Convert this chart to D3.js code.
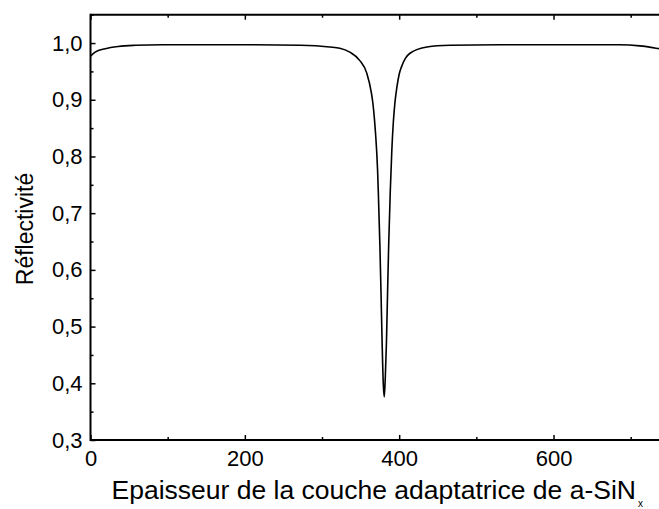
<!DOCTYPE html>
<html>
<head>
<meta charset="utf-8">
<script src="https://cdn.jsdelivr.net/npm/d3@7"></script>
<style>
  html, body { margin: 0; padding: 0; background: #fff; }
  svg { display: block; }
  text { font-family: "Liberation Sans", Arial, sans-serif; fill: #000; }
</style>
</head>
<body>
<svg id="chart" width="659" height="509"></svg>
<script>
// Data
const thickness = [0, 6, 19, 36, 58, 93, 142, 207, 272, 310, 323, 336, 349, 358, 364, 366, 368, 369.5, 371, 372, 373, 375, 376.5, 378, 379.5, 380.7, 382, 383.5, 385, 386.5, 388.5, 390.5, 392.5, 394.5, 397, 400, 403, 408, 414, 436, 466, 530, 600, 660, 686, 712, 737, 750];
const reflectivity = [0.977, 0.984, 0.990, 0.994, 0.996, 0.997, 0.997, 0.997, 0.996, 0.993, 0.991, 0.984, 0.969, 0.947, 0.912, 0.893, 0.865, 0.838, 0.805, 0.776, 0.736, 0.643, 0.557, 0.466, 0.396, 0.376, 0.410, 0.472, 0.563, 0.649, 0.740, 0.812, 0.862, 0.895, 0.922, 0.945, 0.958, 0.973, 0.982, 0.993, 0.996, 0.997, 0.997, 0.997, 0.997, 0.995, 0.990, 0.987];
const xTicks = [0, 200, 400, 600];
const xMinorTicks = [100, 300, 500, 700];
const yTicks = [0.3, 0.4, 0.5, 0.6, 0.7, 0.8, 0.9, 1.0];
const yMinorTicks = [0.35, 0.45, 0.55, 0.65, 0.75, 0.85, 0.95, 1.05];
const xTitle = "Epaisseur de la couche adaptatrice de a-SiN";
const xTitleSub = "x";
const yTitle = "Réflectivité";

(function () {
const data = thickness.map((t, i) => ({ x: t, y: reflectivity[i] }));

const svg = d3.select("#chart");
const mLeft = 90.5, mTop = 14.7, mBottom = 440;
const x = d3.scaleLinear().domain([0, 750]).range([mLeft, mLeft + 750 * 0.7717]);
const y = d3.scaleLinear().domain([0.3, 1.05]).range([mBottom, mTop]);

const fmt = d => d3.format(".1f")(d).replace(".", ",");

// Curve
const line = d3.line().x(d => x(d.x)).y(d => y(d.y)).curve(d3.curveMonotoneX);
svg.append("path").datum(data)
  .attr("fill", "none").attr("stroke", "#000").attr("stroke-width", 1.6)
  .attr("d", line);

// Axes (ticks pointing inward)
const gBottom = svg.append("g").attr("transform", `translate(0,${mBottom})`)
  .call(d3.axisBottom(x).tickValues(xTicks).tickSizeInner(-5).tickSizeOuter(0).tickPadding(10.5).tickFormat(d3.format("d")));
const gBottomMinor = svg.append("g").attr("transform", `translate(0,${mBottom})`)
  .call(d3.axisBottom(x).tickValues(xMinorTicks).tickSizeInner(-3).tickSizeOuter(0).tickFormat(""));
const gTop = svg.append("g").attr("transform", `translate(0,${mTop})`)
  .call(d3.axisTop(x).tickValues(xTicks).tickSizeInner(-5).tickSizeOuter(0).tickFormat(""));
const gTopMinor = svg.append("g").attr("transform", `translate(0,${mTop})`)
  .call(d3.axisTop(x).tickValues(xMinorTicks).tickSizeInner(-3).tickSizeOuter(0).tickFormat(""));
const gLeft = svg.append("g").attr("transform", `translate(${mLeft},0)`)
  .call(d3.axisLeft(y).tickValues(yTicks).tickSizeInner(-5).tickSizeOuter(0).tickPadding(8).tickFormat(fmt));
const gLeftMinor = svg.append("g").attr("transform", `translate(${mLeft},0)`)
  .call(d3.axisLeft(y).tickValues(yMinorTicks).tickSizeInner(-3).tickSizeOuter(0).tickFormat(""));

svg.selectAll(".domain").attr("stroke", "#000").attr("stroke-width", 2);
svg.selectAll(".tick line").attr("stroke", "#000").attr("stroke-width", 1.5);
svg.selectAll(".tick text").attr("font-family", "Liberation Sans, Arial, sans-serif").attr("font-size", 22).attr("fill", "#000");

gTop.select(".domain").attr("d", `M${mLeft},0H659`);
gBottom.select(".domain").attr("d", `M${mLeft},0H659`);
gLeft.select(".domain").attr("d", `M0,${mTop - 1}V${mBottom + 1}`);
gTopMinor.select(".domain").remove();
gBottomMinor.select(".domain").remove();
gLeftMinor.select(".domain").remove();

// Titles
const xt = svg.append("text").attr("x", 111.5).attr("y", 499).attr("font-size", 26.5);
xt.append("tspan").text(xTitle);
xt.append("tspan").attr("font-size", 10).attr("dy", 8).attr("dx", 2).text(xTitleSub);

svg.append("text").attr("transform", `translate(33,229) rotate(-90)`)
  .attr("text-anchor", "middle").attr("font-size", 23).text(yTitle);
})();
</script>
</body>
</html>
